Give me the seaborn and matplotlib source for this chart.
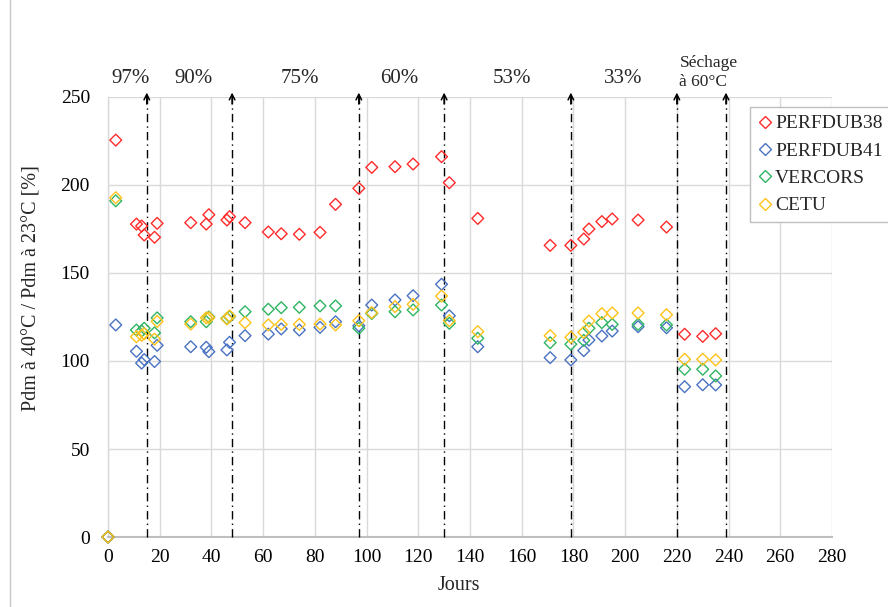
import matplotlib
matplotlib.use('Agg')
import numpy as np
import pandas as pd
import matplotlib.pyplot as plt
import seaborn as sns
from matplotlib.lines import Line2D

# Jours de mesure (communs aux 4 bétons)
jours = [0, 3, 11, 13, 14, 18, 19, 32, 38, 39, 46, 47, 53, 62, 67, 74, 82, 88,
         97, 102, 111, 118, 129, 132, 143, 171, 179, 184, 186, 191, 195, 205,
         216, 223, 230, 235]

perfdub38 = [0, 225.5, 177.8, 176.7, 171.6, 170.3, 178.2, 178.6, 177.8, 183.1,
             180.1, 182.0, 178.6, 173.3, 172.3, 172.0, 173.1, 189.0, 198.1,
             210.0, 210.4, 211.9, 216.1, 201.3, 181.0, 165.7, 165.7, 169.3,
             175.0, 179.2, 180.7, 180.1, 176.1, 115.2, 114.0, 115.5]
perfdub41 = [0, 120.5, 105.5, 98.8, 100.8, 99.7, 108.9, 108.1, 107.8, 105.3,
             106.3, 110.6, 114.4, 115.3, 118.2, 117.6, 119.1, 122.3, 120.0,
             131.8, 134.7, 137.1, 143.6, 125.7, 108.1, 101.9, 100.6, 105.9,
             111.9, 114.2, 117.0, 119.5, 118.9, 85.4, 86.5, 86.4]
vercors = [0, 191.0, 117.6, 117.0, 118.6, 116.0, 124.5, 122.3, 122.3, 125.0,
           124.2, 125.2, 128.0, 129.4, 130.3, 130.5, 131.3, 131.3, 118.6,
           127.0, 128.0, 129.0, 131.8, 121.4, 112.9, 110.4, 109.5, 111.7,
           118.6, 121.8, 120.8, 120.8, 120.5, 95.3, 95.3, 91.5]
cetu = [0, 192.8, 113.8, 114.6, 115.5, 112.4, 122.5, 121.0, 124.5, 124.6,
        123.9, 125.6, 121.8, 120.5, 120.8, 120.8, 121.0, 120.5, 122.9,
        127.5, 130.9, 132.2, 136.9, 122.9, 116.7, 114.4, 113.5, 116.3,
        122.7, 126.9, 127.3, 127.3, 126.3, 101.0, 101.0, 100.6]

series = ['PERFDUB38', 'PERFDUB41', 'VERCORS', 'CETU']
couleurs = ['#FF2B2B', '#4A72C2', '#2FB563', '#FFC21A']

# changements d'humidité relative
changements = [15, 48, 97, 130, 179, 220, 239]
hr_labels = ['97%', '90%', '75%', '60%', '53%', '33%']
hr_pos = [8.6, 33.1, 74.2, 112.8, 156.3, 199.4]

df = pd.concat([
    pd.DataFrame({'Jours': jours, 'Valeur': vals, 'Serie': nom})
    for nom, vals in zip(series, [perfdub38, perfdub41, vercors, cetu])
], ignore_index=True)

sns.set_style('white')
plt.rcParams['font.family'] = ['Liberation Serif', 'DejaVu Serif']

fig = plt.figure(figsize=(8.88, 6.07), dpi=100)
ax = fig.add_axes([108 / 888, 1 - 537 / 607, 724 / 888, 440 / 607])

sns.scatterplot(data=df, x='Jours', y='Valeur', hue='Serie', hue_order=series,
                palette=couleurs, marker='D', s=36, linewidth=1.0,
                legend=False, ax=ax, zorder=4)
# losanges vides, contour coloré
for coll in ax.collections:
    fc = coll.get_facecolors()
    coll.set_edgecolors(fc)
    coll.set_facecolors('none')
    coll.set_clip_on(False)

ax.set_xlim(0, 280)
ax.set_ylim(0, 250)
ax.set_xticks(np.arange(0, 281, 20))
ax.set_yticks(np.arange(0, 251, 50))
ax.grid(True, color='#D9D9D9', linewidth=1.0)
ax.set_axisbelow(True)
for side in ['top', 'right']:
    ax.spines[side].set_visible(False)
ax.spines['left'].set_color('#D9D9D9')
ax.spines['left'].set_linewidth(1.0)
ax.spines['bottom'].set_color('#BFBFBF')
ax.spines['bottom'].set_linewidth(1.5)
ax.tick_params(axis='both', length=0, labelsize=14, colors='black')
ax.tick_params(axis='y', pad=13)
ax.tick_params(axis='x', pad=9)

ax.set_xlabel('Jours', fontsize=14.5)
ax.set_ylabel('Pdm à 40°C / Pdm à 23°C [%]', fontsize=14.5)
ax.xaxis.set_label_coords(0.4845, -0.088)
ax.yaxis.set_label_coords(-0.092, 0.566)

# flèches en trait mixte
ax.vlines(changements, 0, 251.5, colors='black', linewidth=1.0,
          linestyles=[(0, (6, 3, 1, 3))], clip_on=False, zorder=3)
for x in changements:
    ax.annotate('', xy=(x, 252.5), xytext=(x, 246), annotation_clip=False,
                arrowprops=dict(arrowstyle='->', color='black', lw=1.1,
                                mutation_scale=10, shrinkA=0, shrinkB=0))

for lab, x in zip(hr_labels, hr_pos):
    ax.text(x, 260.5, lab, ha='center', va='center', fontsize=15, clip_on=False)
ax.text(221, 264, 'Séchage\nà 60°C', ha='left', va='center', fontsize=12.5,
        linespacing=1.25, clip_on=False)

handles = [Line2D([0], [0], marker='D', linestyle='', markerfacecolor='none',
                  markeredgecolor=c, markersize=6, markeredgewidth=1.0,
                  label=n) for n, c in zip(series, couleurs)]
leg = fig.legend(handles=handles, loc='upper left',
                 bbox_to_anchor=(750 / 888, 1 - 107 / 607), fontsize=14,
                 frameon=True, fancybox=False, edgecolor='#BFBFBF',
                 framealpha=1, borderaxespad=0, borderpad=0.4,
                 labelspacing=0.5, handlelength=0.7, handletextpad=0.2)
leg.get_frame().set_linewidth(1.0)

# bord gauche du cadre du graphique
fig.add_artist(Line2D([9.5 / 888, 9.5 / 888], [0, 1], color='#C8C8C8',
                      linewidth=1.0, transform=fig.transFigure))

fig.savefig('out.png', dpi=100)
